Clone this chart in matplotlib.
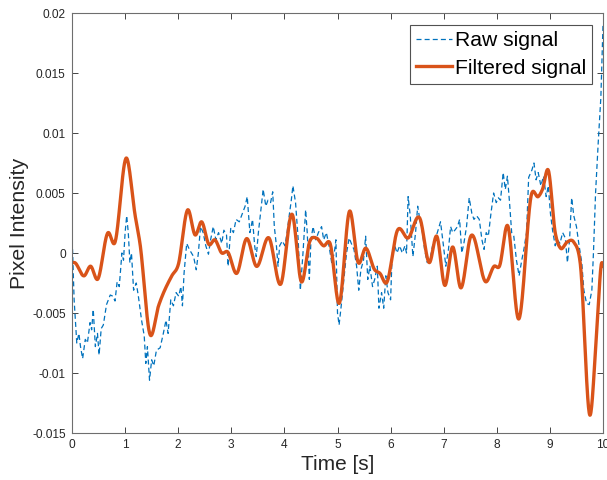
import matplotlib
matplotlib.use('Agg')
from matplotlib import pyplot as plt
import numpy as np

# raw signal (blue dashed)
raw_t = [0.0, 0.01, 0.04, 0.09, 0.13, 0.16, 0.2, 0.25, 0.29, 0.34, 0.37, 0.4, 0.44, 0.48, 0.51, 0.55,
         0.59, 0.65, 0.72, 0.77, 0.81, 0.85, 0.89, 0.94, 0.97, 1.0, 1.03, 1.06, 1.09, 1.12, 1.16,
         1.21, 1.25, 1.31, 1.36, 1.39, 1.42, 1.46, 1.5, 1.54, 1.59, 1.66, 1.72, 1.77, 1.81, 1.86,
         1.91, 1.96, 2.01, 2.05, 2.08, 2.11, 2.16, 2.21, 2.25, 2.29, 2.34, 2.38, 2.42, 2.47, 2.52,
         2.57, 2.61, 2.66, 2.71, 2.76, 2.82, 2.86, 2.91, 2.94, 2.99, 3.04, 3.09, 3.15, 3.21, 3.26,
         3.3, 3.35, 3.4, 3.44, 3.47, 3.51, 3.55, 3.6, 3.65, 3.69, 3.74, 3.78, 3.81, 3.85, 3.88,
         3.91, 3.96, 4.01, 4.05, 4.09, 4.13, 4.16, 4.21, 4.26, 4.3, 4.35, 4.4, 4.43, 4.47, 4.5,
         4.54, 4.59, 4.64, 4.7, 4.74, 4.79, 4.84, 4.89, 4.94, 4.97, 5.0, 5.03, 5.07, 5.12, 5.17,
         5.22, 5.26, 5.31, 5.36, 5.4, 5.44, 5.49, 5.53, 5.57, 5.61, 5.66, 5.7, 5.75, 5.78, 5.83,
         5.87, 5.91, 5.95, 6.0, 6.03, 6.08, 6.12, 6.17, 6.22, 6.27, 6.3, 6.33, 6.37, 6.42, 6.47,
         6.51, 6.55, 6.6, 6.64, 6.69, 6.74, 6.79, 6.83, 6.88, 6.94, 6.99, 7.04, 7.09, 7.13, 7.17,
         7.21, 7.26, 7.3, 7.34, 7.38, 7.43, 7.48, 7.53, 7.57, 7.62, 7.67, 7.72, 7.76, 7.8, 7.84,
         7.89, 7.94, 7.99, 8.03, 8.07, 8.12, 8.16, 8.2, 8.24, 8.28, 8.32, 8.37, 8.42, 8.47, 8.51,
         8.56, 8.6, 8.66, 8.7, 8.74, 8.78, 8.83, 8.88, 8.93, 8.97, 9.01, 9.05, 9.1, 9.14, 9.19,
         9.24, 9.29, 9.33, 9.37, 9.41, 9.45, 9.5, 9.55, 9.6, 9.64, 9.69, 9.74, 9.79, 9.82, 9.86,
         9.91, 9.96, 9.99, 10.0]
raw_v = [0.0003, 0.0003, -0.0039, -0.0075, -0.0067, -0.0078, -0.0088, -0.0072, -0.0075, -0.0058,
         -0.0064, -0.0047, -0.0078, -0.0067, -0.0085, -0.0063, -0.006, -0.0043, -0.0035, -0.0036,
         -0.004, -0.0024, -0.0028, 0.0, -0.0006, 0.0017, 0.0031, 0.0017, -0.0008, 0.0, -0.0031,
         -0.0025, -0.0036, -0.0056, -0.0069, -0.0092, -0.0078, -0.0106, -0.0089, -0.0094, -0.0081,
         -0.0079, -0.0067, -0.0056, -0.0067, -0.0039, -0.0044, -0.0033, -0.0036, -0.0028, -0.0044,
         -0.0017, 0.0008, 0.0003, 0.0, -0.0003, -0.0014, 0.0, 0.0022, 0.0017, 0.0006, -0.0001,
         0.0011, 0.0022, 0.0011, 0.0017, 0.0008, 0.0019, 0.0015, -0.0011, 0.0021, 0.0017, 0.0028,
         0.0026, 0.0033, 0.0039, 0.0047, 0.0017, 0.0028, 0.0006, -0.0003, 0.0017, 0.0033, 0.0053,
         0.0039, 0.0044, 0.0042, 0.0051, 0.0022, 0.0006, -0.0011, 0.0006, 0.001, 0.0006, 0.0017,
         0.0031, 0.0044, 0.0056, 0.0042, 0.0011, -0.0031, 0.0, 0.0036, 0.0017, -0.0022, 0.0011,
         0.0022, 0.0011, 0.0017, 0.0022, 0.0011, 0.0017, 0.0006, -0.0008, 0.0, 0.0011, -0.005,
         -0.006, -0.0044, -0.0022, 0.0, 0.00125, 0.0008, 0.0003, -0.0011, -0.0031, -0.0014,
         -0.0006, 0.0014, -0.0022, -0.0011, -0.0028, -0.0022, -0.0011, -0.0046, -0.0033, -0.0046,
         -0.0019, -0.0033, -0.0039, 0.0, 0.0006, 0.0, 0.0006, 0.0, 0.0006, 0.0, 0.0047, 0.0031,
         -0.0003, 0.0017, 0.0039, 0.0028, 0.0017, 0.0003, -0.0008, -0.0006, 0.0006, 0.0011,
         0.0017, 0.0026, 0.0008, -0.0011, 0.0003, 0.0022, 0.0017, 0.0019, 0.0022, 0.0028, 0.0,
         0.0008, 0.0022, 0.0046, 0.0033, 0.0028, 0.0031, 0.0028, 0.0011, 0.0003, 0.0017, 0.0014,
         0.0033, 0.005, 0.0042, 0.0046, 0.0044, 0.0067, 0.0053, 0.0064, 0.0042, 0.0017, 0.0014,
         -0.0006, -0.0019, -0.0006, 0.0003, 0.0017, 0.0063, 0.0069, 0.0075, 0.0061, 0.0067,
         0.0056, 0.0064, 0.0047, 0.0056, 0.0033, 0.0019, 0.0006, 0.0011, 0.0008, 0.0017, 0.00125,
         -0.0008, 0.0011, 0.0046, 0.0031, 0.0022, 0.0006, -0.0008, -0.0031, -0.0042, -0.0043,
         -0.0031, 0.0, 0.005, 0.0092, 0.013, 0.0175, 0.019]

# filtered signal (orange), control points
filt_t = [0.0, 0.05, 0.23, 0.35, 0.48, 0.68, 0.8, 1.03, 1.19, 1.28, 1.47, 1.63, 1.88, 2.0, 2.18,
          2.32, 2.44, 2.58, 2.69, 2.82, 2.93, 3.1, 3.29, 3.47, 3.71, 3.93, 4.15, 4.32, 4.48, 4.6,
          4.74, 4.86, 5.03, 5.23, 5.39, 5.53, 5.7, 5.8, 5.92, 6.13, 6.33, 6.55, 6.73, 6.87, 7.02,
          7.17, 7.32, 7.51, 7.8, 7.95, 8.05, 8.2, 8.41, 8.66, 8.78, 8.86, 8.97, 9.1, 9.2, 9.32,
          9.45, 9.57, 9.76, 9.88, 9.98, 10.0]
filt_v = [-0.0008, -0.0008, -0.0019, -0.0011, -0.0022, 0.0017, 0.0008, 0.0079, 0.0031, 0.0008,
          -0.0068, -0.0044, -0.0019, -0.001, 0.0036, 0.0015, 0.0026, 0.0007, 0.0011, 0.0, 0.0001,
          -0.0017, 0.0012, -0.0011, 0.00125, -0.0026, 0.0032, -0.0024, 0.001, 0.00125, 0.0006,
          0.0008, -0.0042, 0.0035, -0.0008, 0.0004, -0.0014, -0.0017, -0.0025, 0.0019, 0.00125,
          0.0029, -0.0008, 0.0014, -0.0027, 0.0005, -0.0029, 0.0014, -0.0024, -0.0011, -0.0011,
          0.0023, -0.0055, 0.005, 0.0047, 0.0053, 0.0069, 0.0017, 0.0004, 0.0009, 0.0009, -0.0008,
          -0.0135, -0.0067, -0.0008, -0.0011]

x_ticks = list(range(0, 11))
y_ticks = [-0.015, -0.01, -0.005, 0, 0.005, 0.01, 0.015, 0.02]
y_ticklabels = ['-0.015', '-0.01', '-0.005', '0', '0.005', '0.01', '0.015', '0.02']


def smooth(t, v, n=1500):
    # cubic hermite pass through the read points, just for drawing a smooth line
    t = np.asarray(t, float)
    v = np.asarray(v, float)
    m = np.gradient(v, t)
    tt = np.linspace(t[0], t[-1], n)
    idx = np.clip(np.searchsorted(t, tt) - 1, 0, len(t) - 2)
    h = t[idx + 1] - t[idx]
    s = (tt - t[idx]) / h
    h00 = 2 * s**3 - 3 * s**2 + 1
    h10 = s**3 - 2 * s**2 + s
    h01 = -2 * s**3 + 3 * s**2
    h11 = s**3 - s**2
    return tt, h00 * v[idx] + h10 * h * m[idx] + h01 * v[idx + 1] + h11 * h * m[idx + 1]


plt.rcParams['font.family'] = ['Liberation Sans', 'DejaVu Sans']

fig = plt.figure(figsize=(6.07, 4.80), dpi=100)
ax = fig.add_axes([72 / 607, 1 - 433 / 480, (603 - 72) / 607, (433 - 13) / 480])

ax.plot(raw_t, raw_v, ls='--', color='#0072BD', lw=0.9, dashes=(4, 2.5), label='Raw signal')
ft, fv = smooth(filt_t, filt_v)
ax.plot(ft, fv, color='#D95319', lw=2.4, label='Filtered signal')

ax.set_xlim(0, 10)
ax.set_ylim(-0.015, 0.02)
ax.set_xticks(x_ticks)
ax.set_xticklabels([str(x) for x in x_ticks])
ax.set_yticks(y_ticks)
ax.set_yticklabels(y_ticklabels)

ax.tick_params(direction='in', top=True, right=True, length=4, width=0.6,
               labelsize=8.6, colors='#262626', pad=4.5)
for sp in ax.spines.values():
    sp.set_color('#6e6e6e')
    sp.set_linewidth(0.8)

ax.set_xlabel('Time [s]', fontsize=15, color='#262626', labelpad=3)
ax.set_ylabel('Pixel Intensity', fontsize=15.3, color='#262626', labelpad=2)

leg = ax.legend(loc='upper right', bbox_to_anchor=((592 - 72) / 531, (433 - 25) / 420), fontsize=15.2,
                frameon=True, fancybox=False, handlelength=1.7, handletextpad=0.15,
                labelspacing=0.42, borderpad=0.28, borderaxespad=0)
leg.get_frame().set_edgecolor('#262626')
leg.get_frame().set_linewidth(0.8)

fig.savefig('out.png', dpi=100)
